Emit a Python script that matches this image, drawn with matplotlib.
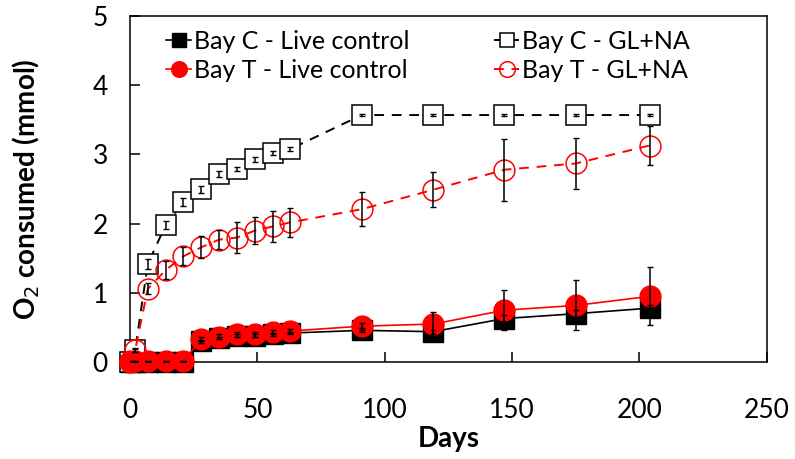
import matplotlib.pyplot as plt
import numpy as np

plt.rcParams["font.family"] = ["Lato", "DejaVu Sans"]

# Sampling days
days = [0, 2, 7, 14, 21, 28, 35, 42, 49, 56, 63, 91, 119, 147, 175, 204]

# Live controls
c_live = [0, 0, 0, 0, 0, 0.30, 0.35, 0.38, 0.38, 0.40, 0.42, 0.46, 0.44, 0.63, 0.70, 0.78]
c_live_err = [0, 0, 0, 0, 0, 0.02, 0.02, 0.02, 0.02, 0.02, 0.02, 0.03, 0.03, 0.05, 0.05, 0.05]
t_live = [0.02, 0.02, 0.02, 0.02, 0.02, 0.33, 0.37, 0.40, 0.40, 0.43, 0.45, 0.52, 0.55, 0.75, 0.82, 0.95]
t_live_err = [0, 0, 0, 0, 0, 0.03, 0.03, 0.03, 0.03, 0.03, 0.03, 0.05, 0.18, 0.29, 0.36, 0.42]

# GL+NA amended
c_glna = [0.0, 0.17, 1.42, 1.98, 2.31, 2.50, 2.72, 2.79, 2.93, 3.02, 3.08, 3.57, 3.57, 3.57, 3.57, 3.57]
c_glna_err = [0.0, 0.02, 0.07, 0.06, 0.06, 0.05, 0.04, 0.03, 0.04, 0.03, 0.03, 0.02, 0.02, 0.02, 0.02, 0.02]
t_glna = [0.0, 0.17, 1.06, 1.33, 1.53, 1.66, 1.77, 1.80, 1.90, 1.96, 2.02, 2.21, 2.49, 2.78, 2.87, 3.13]
t_glna_err = [0.0, 0.03, 0.08, 0.13, 0.13, 0.16, 0.14, 0.22, 0.20, 0.22, 0.21, 0.25, 0.25, 0.45, 0.37, 0.28]

fig = plt.figure(figsize=(7.95, 4.59), dpi=100)
ax = fig.add_axes([0.1635, 0.211, 0.801, 0.754])

ax.plot(days, c_live, "-", color="k", lw=1.2, marker="s", ms=14, mfc="k", mec="k",
        label="Bay C - Live control", zorder=3, clip_on=False)
ax.plot(days, t_live, "-", color="red", lw=1.2, marker="o", ms=15, mfc="red", mec="red",
        label="Bay T - Live control", zorder=4, clip_on=False)
ax.plot(days, c_glna, "--", color="k", lw=1.4, dashes=(5, 4), marker="s", ms=14, mfc="white",
        mec="k", mew=1.1, label="Bay C - GL+NA", zorder=3, clip_on=False)
ax.plot(days, t_glna, "--", color="red", lw=1.4, dashes=(5, 4), marker="o", ms=15, mfc="none",
        mec="red", mew=1.1, label="Bay T - GL+NA", zorder=4, clip_on=False)

for y, e in [(c_live, c_live_err), (t_live, t_live_err), (c_glna, c_glna_err), (t_glna, t_glna_err)]:
    ax.errorbar(days, y, yerr=e, fmt="none", ecolor="k", elinewidth=1.1, capsize=2, zorder=5)

ax.set_xlim(0, 250)
ax.set_ylim(0, 5)
ax.set_xticks([0, 50, 100, 150, 200, 250])
ax.set_yticks([0, 1, 2, 3, 4, 5])
ax.tick_params(direction="in", labelsize=19, length=7, width=1.1)
ax.tick_params(axis="x", pad=26)
ax.tick_params(axis="y", pad=16)
for s in ax.spines.values():
    s.set_linewidth(1.1)
ax.set_xlabel("Days", fontsize=20, fontweight="bold", labelpad=2)
ax.set_ylabel("O$_2$ consumed (mmol)", fontsize=20, fontweight="bold", labelpad=36)

ax.legend(ncol=2, loc="upper left", frameon=False, fontsize=18, handlelength=1.0,
          handletextpad=0.1, columnspacing=3.4, labelspacing=0.25, markerscale=0.75,
          bbox_to_anchor=(0.022, 1.025))

fig.savefig("out.png", dpi=100)
